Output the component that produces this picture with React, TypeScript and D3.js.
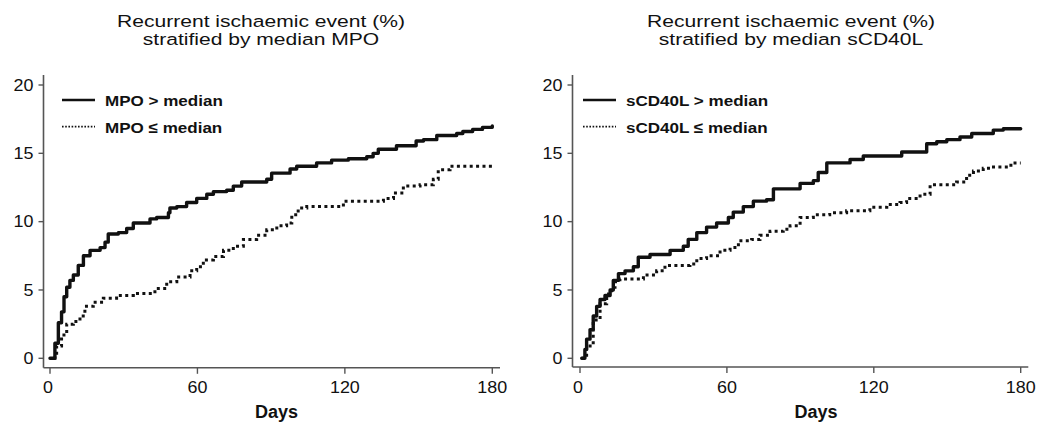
import React from "react";
import * as d3 from "d3";

// ---------- Data ----------
const xTicks = [0, 60, 120, 180];
const yTicks = [0, 5, 10, 15, 20];

const titleLine1 = "Recurrent ischaemic event (%)";
const titlesLine2 = ["stratified by median MPO", "stratified by median sCD40L"];
const legendHigh = ["MPO > median", "sCD40L > median"];
const legendLow = ["MPO \u2264 median", "sCD40L \u2264 median"];
const xAxisLabel = "Days";

// Left panel: MPO > median (solid)
const mpoHighDays = [0, 2, 3.4, 4.7, 5.7, 6.8, 8.1, 9.5, 11.5, 13.6, 16.3, 20.4, 22.4, 23.7, 27.8, 31.2, 33.9, 40.7, 43.4, 48.2, 48.8, 51.6, 55.6, 59.7, 63.8, 66.5, 71.9, 74.6, 78, 88.2, 90.2, 97.7, 100.4, 108.5, 114.6, 121.4, 128.9, 131.5, 133.6, 141, 149, 152, 157.4, 165.5, 168, 172, 176, 180];
const mpoHighVals = [0, 1.1, 2.6, 3.4, 4.5, 5.2, 5.7, 6.1, 6.8, 7.5, 7.9, 8.1, 8.5, 9.1, 9.2, 9.5, 9.9, 10.2, 10.3, 10.65, 11.0, 11.1, 11.4, 11.7, 12.0, 12.2, 12.3, 12.6, 12.9, 13.1, 13.55, 13.85, 14.05, 14.3, 14.5, 14.6, 14.75, 15.0, 15.3, 15.55, 15.9, 16.0, 16.3, 16.45, 16.6, 16.75, 16.9, 17.0];

// Left panel: MPO <= median (dotted)
const mpoLowDays = [1.5, 2, 2.7, 4.7, 6.8, 9.5, 12.2, 14.2, 17.6, 21.7, 27.1, 33.9, 42.7, 47.5, 51.6, 57, 59.7, 62.4, 66.5, 70.6, 74.6, 78.7, 84.1, 88.2, 92.3, 96.3, 98.4, 101, 104.5, 119.4, 135.7, 139.8, 143.8, 150.6, 156, 158, 162.8, 180];
const mpoLowVals = [0, 0.2, 0.9, 1.7, 2.5, 2.7, 3.1, 3.8, 4.1, 4.4, 4.6, 4.75, 5.1, 5.6, 5.95, 6.4, 6.7, 7.2, 7.45, 7.9, 8.2, 8.7, 9.0, 9.4, 9.7, 9.9, 10.5, 11.0, 11.1, 11.5, 11.7, 12.1, 12.6, 12.7, 13.1, 13.8, 14.05, 14.05];

// Right panel: sCD40L > median (solid)
const cdHighDays = [0.7, 2, 2.7, 4.1, 5.4, 6.8, 8.2, 10.2, 12.3, 13.6, 15.7, 18.4, 21.8, 23.8, 28.6, 36.8, 42.2, 44.2, 47.7, 51.7, 55.8, 60.6, 62.6, 66.7, 70.8, 76.2, 79, 89.9, 95.3, 97.3, 100.8, 110.3, 115.7, 131.4, 141.6, 145.7, 149.8, 155.2, 160, 168.8, 172.9, 180];
const cdHighVals = [0, 0.65, 1.4, 2.1, 3.1, 3.8, 4.3, 4.6, 5.0, 5.7, 6.2, 6.4, 6.7, 7.4, 7.6, 7.9, 8.2, 8.7, 9.2, 9.6, 9.9, 10.3, 10.7, 11.1, 11.5, 11.6, 12.4, 12.8, 13.0, 13.6, 14.3, 14.55, 14.8, 15.1, 15.7, 15.85, 16.0, 16.2, 16.45, 16.7, 16.8, 16.8];

// Right panel: sCD40L <= median (dotted)
const cdLowDays = [0.7, 2.7, 5.4, 8.2, 10.9, 12.9, 14.3, 16.3, 25.9, 31.3, 34.7, 44.9, 47.7, 51.7, 57.2, 61.3, 64.7, 70.1, 73.5, 77.6, 83, 85.8, 89.9, 95.3, 102, 108.9, 118.4, 125.3, 130.7, 133.4, 138.9, 143, 153.8, 157.9, 160.7, 164.7, 167.5, 176, 180];
const cdLowVals = [0, 0.9, 2.8, 4.0, 4.7, 5.2, 5.6, 5.8, 6.1, 6.4, 6.8, 6.9, 7.3, 7.5, 7.9, 8.1, 8.6, 8.7, 9.0, 9.3, 9.45, 9.7, 10.3, 10.5, 10.65, 10.8, 11.05, 11.25, 11.4, 11.7, 12.0, 12.7, 12.9, 13.4, 13.7, 13.9, 14.0, 14.3, 14.3];

// ---------- Layout ----------
const FONT = "'Liberation Sans', Arial, Helvetica, sans-serif";
const AXIS_COLOR = "#555";

type PanelCfg = {
  axisX: number;
  x0: number;
  x180: number;
  axisEnd: number;
  axisY: number;
  titleX: number;
  legendSampleX: number;
  legendTextX: number;
  daysX: number;
  title2: string;
  hiLabel: string;
  loLabel: string;
  hi: { d: number[]; v: number[] };
  lo: { d: number[]; v: number[] };
};

function SText(props: {
  x: number; y: number; sx?: number; size: number; weight?: string | number;
  anchor?: "start" | "middle" | "end"; children: React.ReactNode;
}) {
  const { x, y, sx = 1, size, weight = "normal", anchor = "start", children } = props;
  return (
    <text
      transform={`translate(${x},${y}) scale(${sx},1)`}
      fontSize={size}
      fontWeight={weight}
      textAnchor={anchor}
      fontFamily={FONT}
      fill="#111"
    >
      {children}
    </text>
  );
}

function Panel({ cfg }: { cfg: PanelCfg }) {
  const x = d3.scaleLinear().domain([0, 180]).range([cfg.x0, cfg.x180]);
  const y = d3.scaleLinear().domain([0, 20]).range([358.3, 85]);
  const line = d3
    .line<[number, number]>()
    .x((p) => x(p[0]))
    .y((p) => y(p[1]))
    .curve(d3.curveStepAfter);
  const hiPts = cfg.hi.d.map((d, i) => [d, cfg.hi.v[i]] as [number, number]);
  const loPts = cfg.lo.d.map((d, i) => [d, cfg.lo.v[i]] as [number, number]);
  const yTop = 75;

  return (
    <g>
      {/* Title */}
      <SText x={cfg.titleX} y={27} size={17} sx={1.24} anchor="middle">{titleLine1}</SText>
      <SText x={cfg.titleX} y={45} size={17} sx={1.24} anchor="middle">{cfg.title2}</SText>

      {/* Axes */}
      <line x1={cfg.axisX} x2={cfg.axisX} y1={yTop} y2={cfg.axisY} stroke={AXIS_COLOR} strokeWidth={1.6} />
      <line x1={cfg.axisX} x2={cfg.axisEnd} y1={cfg.axisY} y2={cfg.axisY} stroke={AXIS_COLOR} strokeWidth={1.6} />
      {yTicks.map((t) => (
        <g key={"y" + t}>
          <line x1={cfg.axisX - 5} x2={cfg.axisX} y1={y(t)} y2={y(t)} stroke={AXIS_COLOR} strokeWidth={1.4} />
          <SText x={cfg.axisX - 10} y={y(t) + 5.8} size={16} sx={1.12} anchor="end">{t}</SText>
        </g>
      ))}
      {xTicks.map((t) => (
        <g key={"x" + t}>
          <line x1={x(t)} x2={x(t)} y1={cfg.axisY} y2={cfg.axisY + 6} stroke={AXIS_COLOR} strokeWidth={1.4} />
          <SText x={x(t) + (t === 0 ? -2 : 0)} y={393} size={16} sx={1.12} anchor="middle">{t}</SText>
        </g>
      ))}
      <SText x={cfg.daysX} y={418} size={18} weight="bold" anchor="middle">{xAxisLabel}</SText>

      {/* Curves */}
      <path d={line(loPts) || ""} fill="none" stroke="#111" strokeWidth={3} strokeDasharray="3 3.4" />
      <path d={line(hiPts) || ""} fill="none" stroke="#111" strokeWidth={3.4} strokeLinejoin="round" strokeLinecap="round" />

      {/* Legend */}
      <line x1={cfg.legendSampleX} x2={cfg.legendSampleX + 33} y1={100} y2={100} stroke="#111" strokeWidth={2.6} />
      <SText x={cfg.legendTextX} y={106} size={15.5} sx={1.1} weight="bold">{cfg.hiLabel}</SText>
      <line x1={cfg.legendSampleX} x2={cfg.legendSampleX + 33} y1={126.7} y2={126.7} stroke="#111" strokeWidth={1.8} strokeDasharray="1.6 1.6" />
      <SText x={cfg.legendTextX} y={133} size={15.5} sx={1.1} weight="bold">{cfg.loLabel}</SText>
    </g>
  );
}

const panels: PanelCfg[] = [
  {
    axisX: 43.5, x0: 50, x180: 492.3, axisEnd: 500, axisY: 367.8,
    titleX: 261, legendSampleX: 62, legendTextX: 105, daysX: 276.5,
    title2: titlesLine2[0], hiLabel: legendHigh[0], loLabel: legendLow[0],
    hi: { d: mpoHighDays, v: mpoHighVals }, lo: { d: mpoLowDays, v: mpoLowVals },
  },
  {
    axisX: 572.5, x0: 580, x180: 1020.7, axisEnd: 1028.3, axisY: 367,
    titleX: 791, legendSampleX: 583, legendTextX: 626, daysX: 816,
    title2: titlesLine2[1], hiLabel: legendHigh[1], loLabel: legendLow[1],
    hi: { d: cdHighDays, v: cdHighVals }, lo: { d: cdLowDays, v: cdLowVals },
  },
];

export default function App() {
  return (
    <svg
      width={1050}
      height={436}
      viewBox="0 0 1050 436"
      style={{ position: "absolute", left: 0, top: 0, background: "#fff", display: "block" }}
    >
      <rect x={0} y={0} width={1050} height={436} fill="#fff" />
      {panels.map((p, i) => (
        <Panel key={i} cfg={p} />
      ))}
    </svg>
  );
}
